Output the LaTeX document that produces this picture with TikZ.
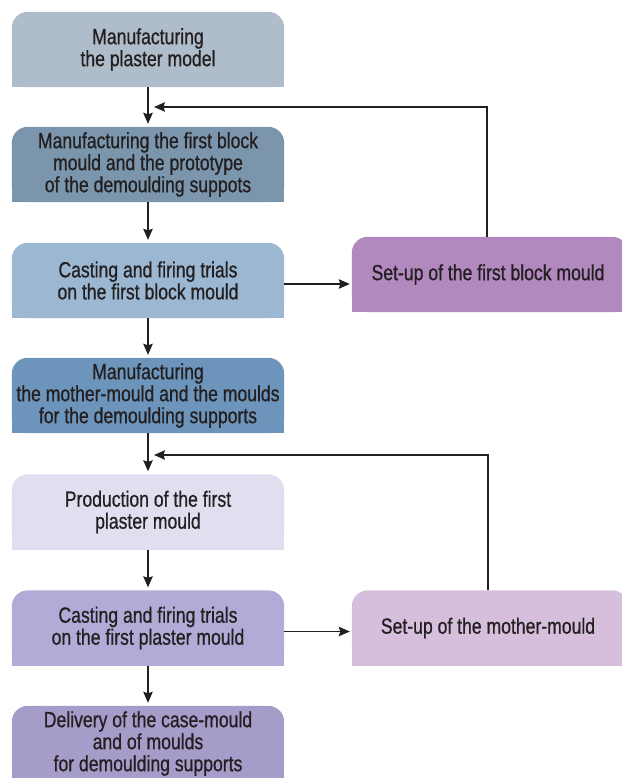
\documentclass[tikz,border=0pt]{standalone}
\usepackage{fontspec}
\setmainfont[FakeStretch=0.8,FakeBold=0.7]{Liberation Sans}
\usetikzlibrary{arrows.meta,backgrounds}
\definecolor{cA}{HTML}{AFBCC9}
\definecolor{cB}{HTML}{7B96AC}
\definecolor{cC}{HTML}{9BB7D1}
\definecolor{cD}{HTML}{6D95BB}
\definecolor{cE}{HTML}{E0DFF0}
\definecolor{cF}{HTML}{B0ACD7}
\definecolor{cG}{HTML}{A69CCA}
\definecolor{cR}{HTML}{B189BF}
\definecolor{cS}{HTML}{D5BFDD}
\definecolor{ink}{HTML}{231F20}
\tikzset{
  stepbox/.style={rectangle, inner sep=0pt, minimum width=272pt, minimum height=75pt,
    align=center, text=ink, font=\fontsize{22}{22}\selectfont},
  sidebox/.style={stepbox, minimum width=276pt},
  arr/.style={line width=1.2pt, draw=ink, -{Stealth[length=11pt,width=9.5pt,inset=1.5pt]}},
}
\newcommand{\topround}[2]{%
  \fill[#2, rounded corners=16pt] (#1.south west) rectangle (#1.north east);
  \fill[#2] (#1.south west) rectangle (#1.east);}
\begin{document}
\begin{tikzpicture}[x=1pt,y=-1pt]
\useasboundingbox (0,0) rectangle (621,778);
\clip (0,0) rectangle (621,778);
\node[stepbox] (b1) at (148,49.5) {Manufacturing\\the plaster model};
\node[stepbox] (b2) at (148,164.5) {Manufacturing the first block\\mould and the prototype\\of the demoulding suppots};
\node[stepbox] (b3) at (148,280.5) {Casting and firing trials\\on the first block mould};
\node[stepbox] (b4) at (148,395.5) {Manufacturing\\the mother-mould and the moulds\\for the demoulding supports};
\node[stepbox] (b5) at (148,512) {Production of the first\\plaster mould};
\node[stepbox] (b6) at (148,628) {Casting and firing trials\\on the first plaster mould};
\node[stepbox] (b7) at (148,743.5) {Delivery of the case-mould\\and of moulds\\for demoulding supports};
\node[sidebox] (r1) at (490,274.5) {\hspace*{-4pt}Set-up of the first block mould};
\node[sidebox] (r2) at (490,628) {\hspace*{-4pt}Set-up of the mother-mould};
\begin{scope}[on background layer]
\topround{b1}{cA}
\topround{b2}{cB}
\topround{b3}{cC}
\topround{b4}{cD}
\topround{b5}{cE}
\topround{b6}{cF}
\topround{b7}{cG}
\topround{r1}{cR}
\topround{r2}{cS}
\end{scope}
\draw[arr, shorten >=3pt] (b1.south) -- (b2.north);
\draw[arr, shorten >=3pt] (b2.south) -- (b3.north);
\draw[arr, shorten >=3pt] (b3.south) -- (b4.north);
\draw[arr, shorten >=3pt] (b4.south) -- (b5.north);
\draw[arr, shorten >=3pt] (b5.south) -- (b6.north);
\draw[arr, shorten >=3pt] (b6.south) -- (b7.north);
\coordinate (s3) at ([yshift=-3.5pt]b3.east);
\coordinate (s6) at ([yshift=-3.5pt]b6.east);
\draw[arr, shorten >=2pt] (s3) -- (s3 -| r1.west);
\draw[arr, shorten >=2pt] (s6) -- (s6 -| r2.west);
\coordinate (m1) at (148,107);
\coordinate (m2) at (148,455);
\draw[arr, shorten >=6pt] ([xshift=-3pt]r1.north) |- (m1);
\draw[arr, shorten >=6pt] ([xshift=-2pt]r2.north) |- (m2);
\end{tikzpicture}
\end{document}
